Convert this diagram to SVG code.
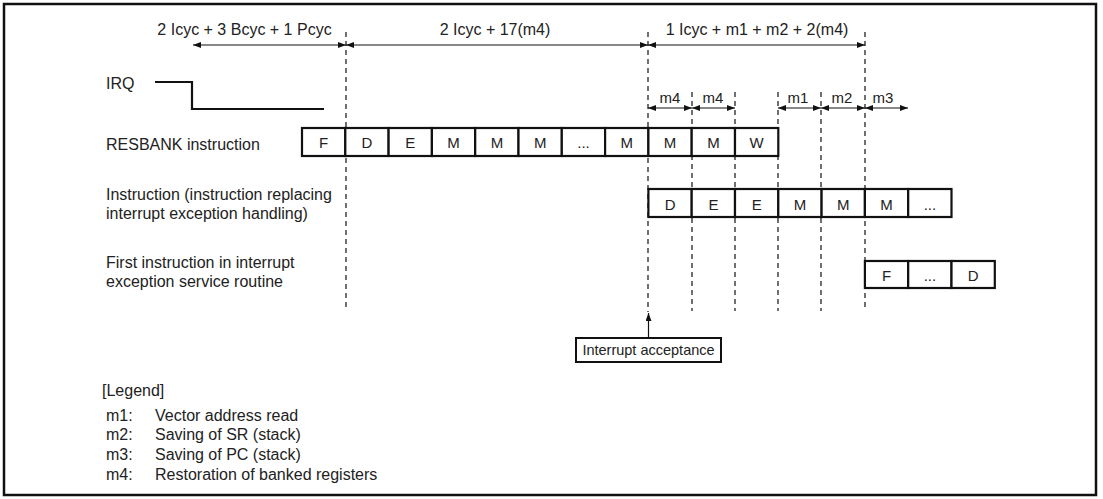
<svg xmlns="http://www.w3.org/2000/svg" width="1103" height="499" viewBox="0 0 1103 499">
<defs>
<marker id="ah" viewBox="0 0 8 6" refX="8" refY="3" markerWidth="8" markerHeight="6" markerUnits="userSpaceOnUse" orient="auto-start-reverse">
<path d="M0,0 L8,3 L0,6 z" fill="#111"/>
</marker>
<style>
text{font-family:"Liberation Sans",Arial,sans-serif;fill:#222}
.lbl{font-size:16px}
.cell{font-size:15px;text-anchor:middle}
.sm{font-size:15px;text-anchor:middle}
.box{fill:#fff;stroke:#111;stroke-width:2.2}
.dash{stroke:#111;stroke-width:1.2;stroke-dasharray:5,4;fill:none}
.dim{stroke:#111;stroke-width:1;fill:none;marker-start:url(#ah);marker-end:url(#ah)}
</style>
</defs>
<rect x="4" y="4" width="1092" height="491" fill="#fff" stroke="#111" stroke-width="2.5"/>

<g id="timing-labels">
<text class="lbl" x="244.5" y="35" text-anchor="middle">2 Icyc + 3 Bcyc + 1 Pcyc</text>
<text class="lbl" x="495" y="35" text-anchor="middle">2 Icyc + 17(m4)</text>
<text class="lbl" x="757" y="35" text-anchor="middle">1 Icyc + m1 + m2 + 2(m4)</text>
<text class="sm" x="670" y="103">m4</text>
<text class="sm" x="713" y="103">m4</text>
<text class="sm" x="798" y="103">m1</text>
<text class="sm" x="842" y="103">m2</text>
<text class="sm" x="883" y="103">m3</text>
</g>

<g id="connectors">
<line class="dash" x1="346" y1="32" x2="346" y2="311"/>
<line class="dash" x1="648" y1="32" x2="648" y2="312"/>
<line class="dash" x1="692" y1="92" x2="692" y2="311"/>
<line class="dash" x1="735" y1="92" x2="735" y2="311"/>
<line class="dash" x1="778" y1="92" x2="778" y2="311"/>
<line class="dash" x1="821" y1="92" x2="821" y2="311"/>
<line class="dash" x1="865" y1="32" x2="865" y2="311"/>
<line class="dim" x1="193" y1="45" x2="346" y2="45"/>
<line class="dim" x1="346" y1="45" x2="648" y2="45"/>
<line class="dim" x1="648" y1="45" x2="865" y2="45"/>
<line class="dim" x1="648" y1="108" x2="692" y2="108"/>
<line class="dim" x1="692" y1="108" x2="735" y2="108"/>
<line class="dim" x1="778" y1="108" x2="821" y2="108"/>
<line class="dim" x1="821" y1="108" x2="865" y2="108"/>
<line class="dim" x1="865" y1="108" x2="908" y2="108"/>
<line x1="648.5" y1="338" x2="648.5" y2="313" stroke="#111" stroke-width="1.2" marker-end="url(#ah)"/>
</g>

<g id="irq">
<text class="lbl" x="106" y="89">IRQ</text>
<polyline points="155,82 192,82 192,109 324,109" fill="none" stroke="#111" stroke-width="2.2"/>
</g>

<g id="resbank">
<text class="lbl" x="106" y="150">RESBANK instruction</text>
<rect class="box" x="302" y="128" width="43.3" height="28"/>
<rect class="box" x="345.3" y="128" width="43.3" height="28"/>
<rect class="box" x="388.6" y="128" width="43.3" height="28"/>
<rect class="box" x="431.9" y="128" width="43.3" height="28"/>
<rect class="box" x="475.2" y="128" width="43.3" height="28"/>
<rect class="box" x="518.5" y="128" width="43.3" height="28"/>
<rect class="box" x="561.8" y="128" width="43.3" height="28"/>
<rect class="box" x="605.1" y="128" width="43.3" height="28"/>
<rect class="box" x="648.4" y="128" width="43.3" height="28"/>
<rect class="box" x="691.7" y="128" width="43.3" height="28"/>
<rect class="box" x="735" y="128" width="43.3" height="28"/>
<text class="cell" x="323.7" y="148">F</text>
<text class="cell" x="367" y="148">D</text>
<text class="cell" x="410.3" y="148">E</text>
<text class="cell" x="453.6" y="148">M</text>
<text class="cell" x="496.9" y="148">M</text>
<text class="cell" x="540.2" y="148">M</text>
<text class="cell" x="583.5" y="148">...</text>
<text class="cell" x="626.8" y="148">M</text>
<text class="cell" x="670.1" y="148">M</text>
<text class="cell" x="713.4" y="148">M</text>
<text class="cell" x="756.7" y="148">W</text>
</g>

<g id="replacing-instruction">
<text class="lbl" x="106" y="200">Instruction (instruction replacing</text>
<text class="lbl" x="106" y="219">interrupt exception handling)</text>
<rect class="box" x="648.4" y="189" width="43.3" height="28"/>
<rect class="box" x="691.7" y="189" width="43.3" height="28"/>
<rect class="box" x="735" y="189" width="43.3" height="28"/>
<rect class="box" x="778.3" y="189" width="43.3" height="28"/>
<rect class="box" x="821.6" y="189" width="43.3" height="28"/>
<rect class="box" x="864.9" y="189" width="43.3" height="28"/>
<rect class="box" x="908.2" y="189" width="43.3" height="28"/>
<text class="cell" x="670.1" y="210">D</text>
<text class="cell" x="713.4" y="210">E</text>
<text class="cell" x="756.7" y="210">E</text>
<text class="cell" x="800" y="210">M</text>
<text class="cell" x="843.3" y="210">M</text>
<text class="cell" x="886.6" y="210">M</text>
<text class="cell" x="929.9" y="210">...</text>
</g>

<g id="first-instruction">
<text class="lbl" x="106" y="268">First instruction in interrupt</text>
<text class="lbl" x="106" y="287">exception service routine</text>
<rect class="box" x="864.9" y="261" width="43.3" height="27"/>
<rect class="box" x="908.2" y="261" width="43.3" height="27"/>
<rect class="box" x="951.5" y="261" width="43.3" height="27"/>
<text class="cell" x="886.6" y="281">F</text>
<text class="cell" x="929.9" y="281">...</text>
<text class="cell" x="973.2" y="281">D</text>
</g>

<g id="interrupt-acceptance">
<rect x="576" y="338" width="145" height="24" fill="#fff" stroke="#111" stroke-width="2"/>
<text x="648.5" y="355" font-size="14.5" text-anchor="middle">Interrupt acceptance</text>
</g>

<g id="legend">
<text class="lbl" x="102" y="396">[Legend]</text>
<text class="lbl" x="106" y="421">m1:</text>
<text class="lbl" x="155" y="421">Vector address read</text>
<text class="lbl" x="106" y="440">m2:</text>
<text class="lbl" x="155" y="440">Saving of SR (stack)</text>
<text class="lbl" x="106" y="460">m3:</text>
<text class="lbl" x="155" y="460">Saving of PC (stack)</text>
<text class="lbl" x="106" y="480">m4:</text>
<text class="lbl" x="155" y="480">Restoration of banked registers</text>
</g>
</svg>
